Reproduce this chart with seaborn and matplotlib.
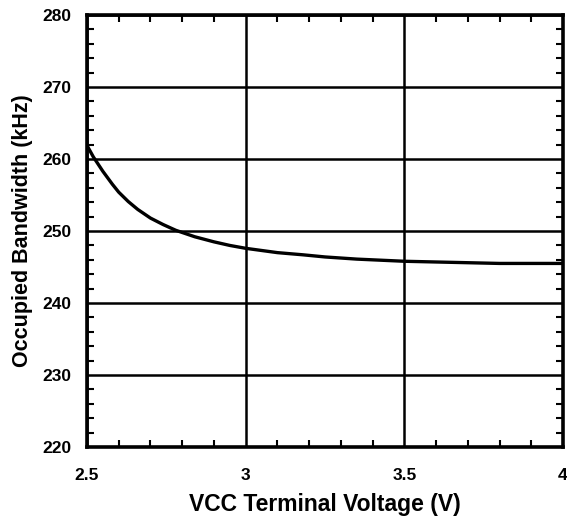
import numpy as np
import pandas as pd
import matplotlib
matplotlib.use("Agg")
import matplotlib.pyplot as plt
import seaborn as sns
from matplotlib.ticker import MultipleLocator

voltage = [2.50, 2.52, 2.55, 2.58, 2.60, 2.63, 2.66, 2.70, 2.74, 2.78, 2.84, 2.90, 2.95, 3.00,
           3.05, 3.10, 3.18, 3.25, 3.35, 3.45, 3.50, 3.60, 3.70, 3.80, 3.90, 4.00]
bandwidth = [261.9, 260.3, 258.3, 256.5, 255.4, 254.1, 253.0, 251.8, 250.9, 250.1, 249.2, 248.5,
             248.0, 247.6, 247.3, 247.0, 246.7, 246.4, 246.1, 245.9, 245.8, 245.7, 245.6, 245.5,
             245.5, 245.5]

xticks = [2.5, 3, 3.5, 4]
xticklabels = ["2.5", "3", "3.5", "4"]
yticks = [220, 230, 240, 250, 260, 270, 280]

sns.set_theme(style="white")
plt.rcParams['font.family'] = ['Liberation Sans', 'DejaVu Sans']
plt.rcParams['text.color'] = 'black'
plt.rcParams['axes.labelcolor'] = 'black'

fig = plt.figure(figsize=(5.67, 5.2), dpi=100)
ax = fig.add_axes([0.1534, 0.1404, 0.8396, 0.8306])

df = pd.DataFrame({"V": voltage, "BW": bandwidth})
sns.lineplot(data=df, x="V", y="BW", ax=ax, color="black", linewidth=2.4)

ax.set_xlim(2.5, 4)
ax.set_ylim(220, 280)
ax.set_xticks(xticks)
ax.set_xticklabels(xticklabels)
ax.set_yticks(yticks)
ax.xaxis.set_minor_locator(MultipleLocator(0.1))
ax.yaxis.set_minor_locator(MultipleLocator(2))
ax.grid(True, which="major", color="black", linewidth=1.8)
ax.tick_params(which="both", direction="in", top=True, right=True, bottom=True, left=True,
               colors="black", labelcolor="black")
ax.tick_params(which="minor", length=5, width=1.5)
ax.tick_params(which="major", length=0, width=1.5)
ax.tick_params(axis="x", which="major", pad=15, labelsize=12.5)
ax.tick_params(axis="y", which="major", pad=11, labelsize=12.5)
for lab in ax.get_xticklabels() + ax.get_yticklabels():
    lab.set_fontweight("bold")
for s in ax.spines.values():
    s.set_color("black")
    s.set_linewidth(2.6)

ax.set_xlabel("VCC Terminal Voltage (V)", fontsize=16.5, fontweight="bold", labelpad=7)
ax.set_ylabel("Occupied Bandwidth (kHz)", fontsize=15.5, fontweight="bold", labelpad=7)

fig.savefig("out.png", dpi=100)
